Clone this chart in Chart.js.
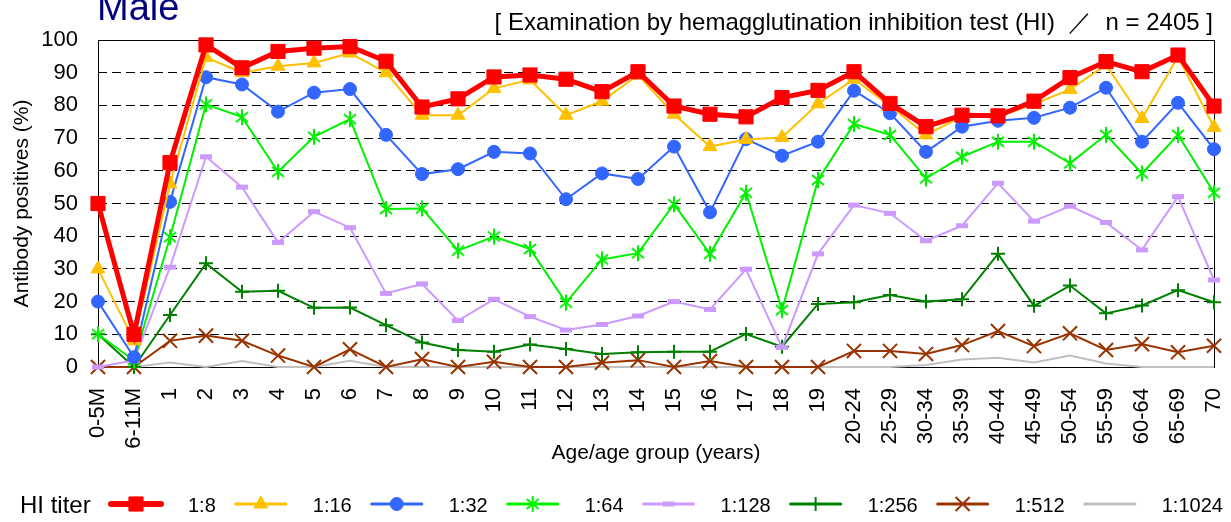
<!DOCTYPE html>
<html>
<head>
<meta charset="utf-8">
<script src="https://cdn.jsdelivr.net/npm/chart.js@4/dist/chart.umd.min.js"></script>
<style>
  html, body { margin: 0; padding: 0; background: #fff; }
</style>
</head>
<body>
<canvas id="titerChart" width="1231" height="522"></canvas>
<script>
// age groups on the x axis
const ageGroups = ["0-5M", "6-11M", "1", "2", "3", "4", "5", "6", "7", "8", "9", "10",
  "11", "12", "13", "14", "15", "16", "17", "18", "19", "20-24", "25-29", "30-34",
  "35-39", "40-44", "45-49", "50-54", "55-59", "60-64", "65-69", "70"];

// antibody positives (%) per HI titer
const titer8 = [50, 10, 62.5, 98.5, 91.5, 96.5, 97.5, 98, 93.5, 79.5, 82, 88.7, 89.3, 88, 84.2, 90.3,
  79.8, 77.3, 76.5, 82.4, 84.6, 90.3, 80.6, 73.5, 77, 76.8, 81.3, 88.5, 93.4, 90.3, 95.4, 79.8];
const titer16 = [30, 8, 56, 94.7, 90, 92, 93, 96, 90, 77, 77, 85.2, 87.8, 77, 81.3, 89.3,
  77.3, 67.4, 69.6, 70.2, 80.5, 88, 79.8, 71, 76.6, 76.6, 80.4, 84.9, 92.4, 76, 94.9, 73.3];
const titer32 = [20, 3, 50.5, 88.6, 86.4, 78.1, 83.9, 85, 71, 59, 60.5, 65.8, 65.3, 51.3, 59.2, 57.5,
  67.4, 47.3, 69.7, 64.6, 68.9, 84.5, 77.6, 65.8, 73.5, 75.3, 76.2, 79.3, 85.4, 68.9, 80.8, 66.6];
const titer64 = [10, 2, 39.7, 80.3, 76.4, 59.7, 70.4, 75.8, 48.3, 48.5, 35.6, 39.9, 36.1, 19.7, 32.9, 34.8,
  49.8, 34.6, 53.3, 17.4, 57.2, 74.3, 71, 57.7, 64.3, 68.9, 68.9, 62.3, 71, 59.2, 71, 53.3];
const titer128 = [0, 2, 30.5, 64.3, 55, 38.1, 47.5, 42.6, 22.5, 25.4, 14.2, 20.7, 15.4, 11.3, 13, 15.6,
  20, 17.6, 29.9, 6, 34.6, 49.5, 47, 38.6, 43.2, 56.2, 44.6, 49.2, 44.2, 35.8, 52.1, 26.6];
const titer256 = [10, 0, 15.9, 31.7, 23, 23.3, 18.1, 18.2, 12.8, 7.5, 5.2, 4.7, 6.9, 5.5, 4, 4.5,
  4.7, 4.7, 10.1, 6.2, 19.3, 19.8, 22, 20, 20.7, 34.6, 18.7, 24.9, 16.4, 18.8, 23.5, 19.8];
const titer512 = [0, 0, 8, 9.6, 8, 3.5, 0, 5.4, 0, 2.4, 0, 1.6, 0, 0, 1.3, 2.1,
  0, 1.8, 0, 0, 0, 4.9, 4.9, 4, 6.7, 11, 6.4, 10.3, 5.2, 7, 4.5, 6.5];
const titer1024 = [0, 0, 1.4, 0, 1.8, 0, 0, 1.9, 0, 0, 0, 0, 0, 0, 0, 0,
  0, 0, 0, 0, 0, 0, 0, 0.6, 2.3, 2.8, 1.4, 3.5, 1.1, 0, 0, 0];

const yTicks = [0, 10, 20, 30, 40, 50, 60, 70, 80, 90, 100];

const FONT = "'Liberation Sans', Arial, sans-serif";
Chart.defaults.font.family = FONT;
Chart.defaults.color = "#000";

// six armed asterisk for 1:64
function asterisk(color) {
  const c = document.createElement("canvas");
  c.width = 18; c.height = 18;
  const g = c.getContext("2d");
  g.strokeStyle = color;
  g.lineWidth = 2;
  g.beginPath();
  g.moveTo(9, 1); g.lineTo(9, 17);
  g.moveTo(3, 4); g.lineTo(15, 14);
  g.moveTo(3, 14); g.lineTo(15, 4);
  g.stroke();
  return c;
}

function series(label, data, color, width, style, radius, pbw) {
  return {
    label: label,
    data: data,
    borderColor: color,
    backgroundColor: color,
    borderWidth: width,
    pointStyle: style,
    pointRadius: radius,
    pointBorderWidth: pbw,
    pointBorderColor: color,
    pointBackgroundColor: color,
    tension: 0,
    clip: false
  };
}

const datasets = [
  series("1:8", titer8, "#FF0000", 5, "rect", 10, 1),
  series("1:16", titer16, "#FFC000", 2, "triangle", 8, 1),
  series("1:32", titer32, "#3366FF", 2, "circle", 6.5, 1),
  series("1:64", titer64, "#00F000", 2, asterisk("#00F000"), 8, 0),
  series("1:128", titer128, "#CC99FF", 2, "line", 6, 5),
  series("1:256", titer256, "#008000", 2, "cross", 7, 2),
  series("1:512", titer512, "#993300", 2, "crossRot", 10, 2),
  series("1:1024", titer1024, "#C0C0C0", 2, false, 0, 0)
];

const decorations = {
  id: "decorations",
  beforeDatasetsDraw(chart) {
    const { ctx, chartArea: a } = chart;
    ctx.save();
    ctx.strokeStyle = "#000";
    ctx.lineWidth = 1;
    ctx.strokeRect(Math.round(a.left) + 0.5, Math.round(a.top) + 0.5,
      Math.round(a.right - a.left), Math.round(a.bottom - a.top));
    ctx.restore();
  },
  afterDraw(chart) {
    const ctx = chart.ctx;
    ctx.save();
    // titles
    ctx.fillStyle = "#000080";
    ctx.font = "38px " + FONT;
    ctx.textBaseline = "alphabetic";
    ctx.textAlign = "left";
    ctx.fillText("Male", 97, 20);
    ctx.fillStyle = "#000";
    ctx.font = "24px " + FONT;
    ctx.textAlign = "right";
    ctx.fillText("[ Examination by hemagglutination inhibition test (HI)  \uFF0F  n = 2405 ]", 1213, 30);

    // legend
    const y = 504;
    ctx.textAlign = "left";
    ctx.textBaseline = "middle";
    ctx.font = "24px " + FONT;
    ctx.fillText("HI titer", 20, y + 2);
    ctx.font = "20px " + FONT;
    let x = 111;
    chart.data.datasets.forEach(ds => {
      ctx.strokeStyle = ds.borderColor;
      ctx.fillStyle = ds.borderColor;
      ctx.lineWidth = ds.borderWidth === 5 ? 6 : 3;
      ctx.lineCap = "round";
      ctx.beginPath();
      ctx.moveTo(x, y);
      ctx.lineTo(x + 50, y);
      ctx.stroke();
      ctx.lineCap = "butt";
      if (ds.pointRadius && Chart.helpers && Chart.helpers.drawPoint) {
        ctx.lineWidth = ds.pointBorderWidth;
        Chart.helpers.drawPoint(ctx, {
          pointStyle: ds.pointStyle, rotation: 0,
          radius: ds.pointRadius, borderWidth: ds.pointBorderWidth
        }, x + 25, y);
      }
      ctx.fillStyle = "#000";
      ctx.fillText(ds.label, x + 77, y + 2);
      x += 77 + ctx.measureText(ds.label).width + 20;
    });
    ctx.restore();
  }
};

new Chart("titerChart", {
  type: "line",
  data: { labels: ageGroups, datasets: datasets },
  plugins: [decorations],
  options: {
    responsive: false,
    animation: false,
    events: [],
    layout: { padding: { top: 40, right: 17, bottom: 54, left: 0 } },
    plugins: { legend: { display: false }, tooltip: { enabled: false } },
    scales: {
      x: {
        offset: false,
        grid: { display: false, drawTicks: false },
        border: { display: false },
        ticks: { autoSkip: false, minRotation: 90, maxRotation: 90, padding: 21, font: { size: 22 } },
        title: { display: true, text: "Age/age group (years)", font: { size: 21 }, padding: { top: 0, bottom: 2 } },
        afterFit(s) { s.height = 101; s.paddingLeft = 0; s.paddingRight = 0; }
      },
      y: {
        min: 0,
        max: 100,
        afterBuildTicks(s) { s.ticks = yTicks.map(v => ({ value: v })); },
        grid: {
          drawTicks: false,
          lineWidth: 1,
          color: c => (c.tick && (c.tick.value === 0 || c.tick.value === 100)) ? "rgba(0,0,0,0)" : "#000"
        },
        border: { display: false, dash: [9, 5] },
        ticks: { padding: 20, font: { size: 22 } },
        title: { display: true, text: "Antibody positives (%)", font: { size: 21 }, padding: { top: 10, bottom: 0 } },
        afterFit(s) { s.width = 98; s.paddingTop = 0; s.paddingBottom = 0; }
      }
    }
  }
});
</script>
</body>
</html>
